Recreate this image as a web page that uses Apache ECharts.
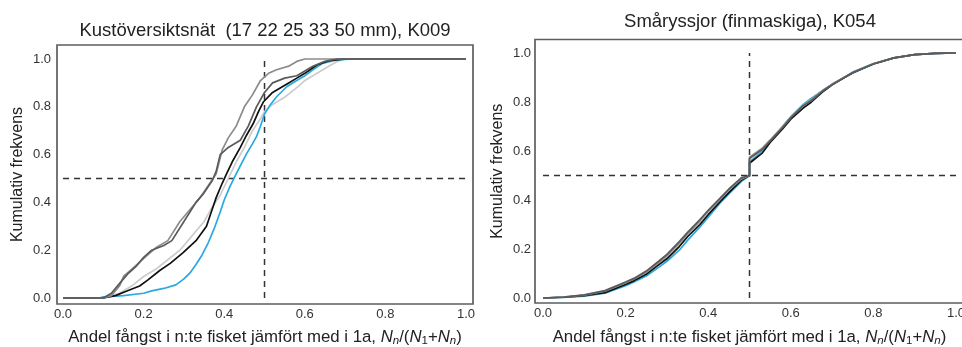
<!DOCTYPE html>
<html>
<head>
<meta charset="utf-8">
<script src="https://cdn.jsdelivr.net/npm/echarts@6/dist/echarts.min.js"></script>
<style>
html,body{margin:0;padding:0;background:#fff;}
#c{width:962px;height:347px;}
</style>
</head>
<body>
<div id="c"></div>
<script>
// ---- data ----
var titles = ['Kustöversiktsnät  (17 22 25 33 50 mm), K009', 'Småryssjor (finmaskiga), K054'];
var yAxisName = 'Kumulativ frekvens';
var xAxisNameText = 'Andel fångst i n:te fisket jämfört med i 1a, ';
var tickValues = [0, 0.2, 0.4, 0.6, 0.8, 1.0];
var refX = 0.5;
var refY = 0.5;

// Left panel (K009) cumulative curves [x, y]
var leftBlue = [[0,0],[0.09,0],[0.1,0.005],[0.15,0.01],[0.2,0.02],[0.22,0.03],[0.25,0.04],[0.28,0.055],[0.3,0.08],[0.315,0.105],[0.33,0.14],[0.345,0.18],[0.36,0.23],[0.375,0.29],[0.39,0.36],[0.4,0.41],[0.414,0.466],[0.43,0.52],[0.445,0.57],[0.456,0.605],[0.47,0.645],[0.48,0.675],[0.49,0.72],[0.5,0.77],[0.515,0.81],[0.53,0.842],[0.555,0.884],[0.58,0.91],[0.6,0.93],[0.62,0.955],[0.645,0.983],[0.68,0.996],[0.72,1.0],[1.0,1.0]];
var leftBlack = [[0,0],[0.1,0],[0.13,0.01],[0.16,0.03],[0.19,0.05],[0.21,0.075],[0.24,0.115],[0.266,0.145],[0.298,0.19],[0.33,0.24],[0.356,0.3],[0.37,0.37],[0.38,0.42],[0.395,0.48],[0.406,0.52],[0.42,0.57],[0.44,0.63],[0.455,0.68],[0.472,0.73],[0.485,0.78],[0.497,0.82],[0.52,0.86],[0.56,0.9],[0.58,0.92],[0.6,0.94],[0.63,0.975],[0.66,0.993],[0.7,1.0],[1,1]];
var leftDark = [[0,0],[0.1,0],[0.12,0.02],[0.14,0.06],[0.16,0.1],[0.18,0.13],[0.2,0.17],[0.22,0.2],[0.25,0.22],[0.27,0.24],[0.3,0.32],[0.33,0.4],[0.35,0.44],[0.37,0.49],[0.38,0.53],[0.39,0.6],[0.41,0.63],[0.44,0.66],[0.46,0.72],[0.48,0.8],[0.5,0.86],[0.52,0.9],[0.55,0.92],[0.58,0.93],[0.6,0.95],[0.62,0.97],[0.65,0.99],[0.68,1.0],[1,1]];
var leftGray = [[0,0],[0.1,0],[0.12,0.01],[0.14,0.05],[0.15,0.09],[0.17,0.12],[0.19,0.15],[0.21,0.18],[0.23,0.21],[0.26,0.24],[0.29,0.32],[0.32,0.38],[0.34,0.42],[0.36,0.47],[0.38,0.52],[0.395,0.62],[0.41,0.67],[0.43,0.72],[0.45,0.8],[0.47,0.85],[0.49,0.91],[0.51,0.94],[0.53,0.955],[0.56,0.97],[0.58,0.99],[0.6,1.0],[1,1]];
var leftLight = [[0,0],[0.1,0],[0.14,0.02],[0.17,0.05],[0.2,0.09],[0.23,0.12],[0.26,0.16],[0.29,0.2],[0.32,0.26],[0.35,0.32],[0.37,0.38],[0.39,0.43],[0.41,0.5],[0.43,0.57],[0.45,0.63],[0.47,0.7],[0.49,0.75],[0.5,0.78],[0.52,0.81],[0.55,0.84],[0.58,0.88],[0.6,0.91],[0.62,0.93],[0.65,0.96],[0.68,0.99],[0.7,1.0],[1,1]];

// Right panel (K054) cumulative curves [x, y]
var rightBlue = [[0,0],[0.05,0.002],[0.1,0.008],[0.15,0.02],[0.2,0.05],[0.22,0.065],[0.25,0.09],[0.28,0.125],[0.3,0.15],[0.33,0.195],[0.35,0.235],[0.38,0.29],[0.4,0.33],[0.43,0.39],[0.45,0.425],[0.48,0.475],[0.5,0.5],[0.5,0.555],[0.53,0.6],[0.55,0.64],[0.58,0.7],[0.6,0.74],[0.63,0.79],[0.65,0.815],[0.68,0.85],[0.7,0.873],[0.73,0.9],[0.75,0.922],[0.8,0.957],[0.85,0.98],[0.9,0.993],[0.95,0.998],[1,1]];
var rightBlack = [[0,0],[0.05,0.003],[0.1,0.01],[0.15,0.022],[0.2,0.055],[0.22,0.07],[0.25,0.097],[0.28,0.135],[0.3,0.16],[0.33,0.21],[0.35,0.25],[0.38,0.3],[0.4,0.34],[0.43,0.395],[0.45,0.43],[0.48,0.48],[0.5,0.5],[0.5,0.55],[0.53,0.59],[0.55,0.635],[0.58,0.69],[0.6,0.73],[0.63,0.775],[0.65,0.8],[0.68,0.845],[0.7,0.87],[0.73,0.9],[0.75,0.918],[0.8,0.955],[0.85,0.98],[0.9,0.993],[0.95,0.998],[1,1]];
var rightGray = [[0,0],[0.05,0.004],[0.1,0.012],[0.15,0.028],[0.2,0.062],[0.22,0.078],[0.25,0.105],[0.28,0.145],[0.3,0.172],[0.33,0.225],[0.35,0.262],[0.38,0.315],[0.4,0.355],[0.43,0.405],[0.45,0.44],[0.48,0.485],[0.5,0.5],[0.5,0.575],[0.53,0.61],[0.55,0.645],[0.58,0.7],[0.6,0.738],[0.63,0.785],[0.65,0.81],[0.68,0.85],[0.7,0.872],[0.73,0.902],[0.75,0.92],[0.8,0.956],[0.85,0.98],[0.9,0.993],[0.95,0.998],[1,1]];
var rightDark = [[0,0],[0.05,0.004],[0.1,0.013],[0.15,0.03],[0.2,0.065],[0.22,0.08],[0.25,0.11],[0.28,0.15],[0.3,0.178],[0.33,0.23],[0.35,0.268],[0.38,0.32],[0.4,0.358],[0.43,0.41],[0.45,0.445],[0.48,0.49],[0.5,0.5],[0.5,0.57],[0.53,0.605],[0.55,0.64],[0.58,0.695],[0.6,0.735],[0.63,0.785],[0.65,0.805],[0.68,0.848],[0.7,0.87],[0.73,0.9],[0.75,0.92],[0.8,0.955],[0.85,0.98],[0.9,0.993],[0.95,0.998],[1,1]];
var rightLight = [[0,0],[0.05,0.003],[0.1,0.011],[0.15,0.025],[0.2,0.058],[0.22,0.073],[0.25,0.1],[0.28,0.14],[0.3,0.166],[0.33,0.218],[0.35,0.255],[0.38,0.308],[0.4,0.348],[0.43,0.4],[0.45,0.435],[0.48,0.483],[0.5,0.5],[0.5,0.565],[0.53,0.605],[0.55,0.64],[0.58,0.698],[0.6,0.737],[0.63,0.787],[0.65,0.81],[0.68,0.85],[0.7,0.872],[0.73,0.9],[0.75,0.92],[0.8,0.956],[0.85,0.98],[0.9,0.993],[0.95,0.998],[1,1]];

// ---- styling / build ----
var FONT = 'Liberation Sans, Arial, sans-serif';
var colors = {blue:'#29a9e1', black:'#111111', dark:'#5a5a5a', gray:'#8c8c8c', light:'#cccccc'};

function xName() {
  return '{n|' + xAxisNameText + '}{i|N}{si|n}{n|/(}{i|N}{s|1}{n|+}{i|N}{si|n}{n|)}';
}
var nameRich = {
  n: {fontSize: 16.8, fontFamily: FONT, color: '#222', lineHeight: 20},
  i: {fontSize: 16.8, fontFamily: FONT, color: '#222', fontStyle: 'italic', lineHeight: 20},
  s: {fontSize: 11.5, fontFamily: FONT, color: '#222', lineHeight: 12, verticalAlign: 'bottom'},
  si: {fontSize: 11.5, fontFamily: FONT, color: '#222', fontStyle: 'italic', lineHeight: 12, verticalAlign: 'bottom'}
};

function xAxis(gi, min, max, gap) {
  return {
    gridIndex: gi, type: 'value', min: min, max: max,
    name: xName(), nameLocation: 'middle', nameGap: gap,
    nameTextStyle: {rich: nameRich},
    axisLine: {show: false}, axisTick: {show: false}, splitLine: {show: false},
    axisLabel: {customValues: tickValues, formatter: function(v){return v.toFixed(1);},
      fontSize: 13, fontFamily: FONT, color: '#333', margin: 4}
  };
}
function yAxis(gi, min, max, gap, margin) {
  return {
    gridIndex: gi, type: 'value', min: min, max: max,
    name: yAxisName, nameLocation: 'middle', nameGap: gap, nameRotate: 90,
    nameTextStyle: {fontSize: 16, fontFamily: FONT, color: '#222'},
    axisLine: {show: false}, axisTick: {show: false}, splitLine: {show: false},
    axisLabel: {customValues: tickValues, formatter: function(v){return v.toFixed(1);},
      fontSize: 13, fontFamily: FONT, color: '#333', margin: margin}
  };
}
function line(gi, data, color, w) {
  return {type: 'line', xAxisIndex: gi, yAxisIndex: gi, data: data, showSymbol: false,
    symbol: 'none', lineStyle: {color: color, width: w || 1.7}, silent: true, animation: false};
}
function dash(gi, data) {
  return {type: 'line', xAxisIndex: gi, yAxisIndex: gi, data: data, symbol: 'none',
    lineStyle: {color: '#333', width: 1.5, type: [6, 5]}, silent: true, animation: false};
}

var chart = echarts.init(document.getElementById('c'), null, {renderer: 'canvas'});
chart.setOption({
  animation: false,
  backgroundColor: '#fff',
  title: [
    {text: titles[0], left: 265, top: 21, textAlign: 'center', padding: 0,
     textStyle: {fontSize: 18.5, fontWeight: 'normal', fontFamily: FONT, color: '#222', lineHeight: 19}},
    {text: titles[1], left: 750, top: 12, textAlign: 'center', padding: 0,
     textStyle: {fontSize: 18.5, fontWeight: 'normal', fontFamily: FONT, color: '#222', lineHeight: 19}}
  ],
  grid: [
    {left: 57, top: 45, width: 416, height: 259, show: true, borderColor: '#5e5e5e', borderWidth: 1.7,
     backgroundColor: 'transparent', containLabel: false, outerBoundsMode: 'none'},
    {left: 535, top: 39.5, width: 429, height: 263.5, show: true, borderColor: '#5e5e5e', borderWidth: 1.7,
     backgroundColor: 'transparent', containLabel: false, outerBoundsMode: 'none'}
  ],
  xAxis: [xAxis(0, -0.015, 1.0174, 23), xAxis(1, -0.0194, 1.0194, 24)],
  yAxis: [yAxis(0, -0.0251, 1.0586, 31, 6), yAxis(1, -0.0204, 1.055, 29, 4)],
  series: [
    dash(0, [[refX, 0], [refX, 1]]),
    dash(0, [[0, refY], [1, refY]]),
    line(0, leftLight, colors.light),
    line(0, leftBlue, colors.blue),
    line(0, leftBlack, colors.black),
    line(0, leftGray, colors.gray),
    line(0, leftDark, colors.dark),
    dash(1, [[refX, 0], [refX, 1]]),
    dash(1, [[0, refY], [1, refY]]),
    line(1, rightBlue, colors.blue),
    line(1, rightLight, colors.light),
    line(1, rightBlack, colors.black),
    line(1, rightGray, colors.gray),
    line(1, rightDark, colors.dark)
  ]
});
</script>
</body>
</html>
